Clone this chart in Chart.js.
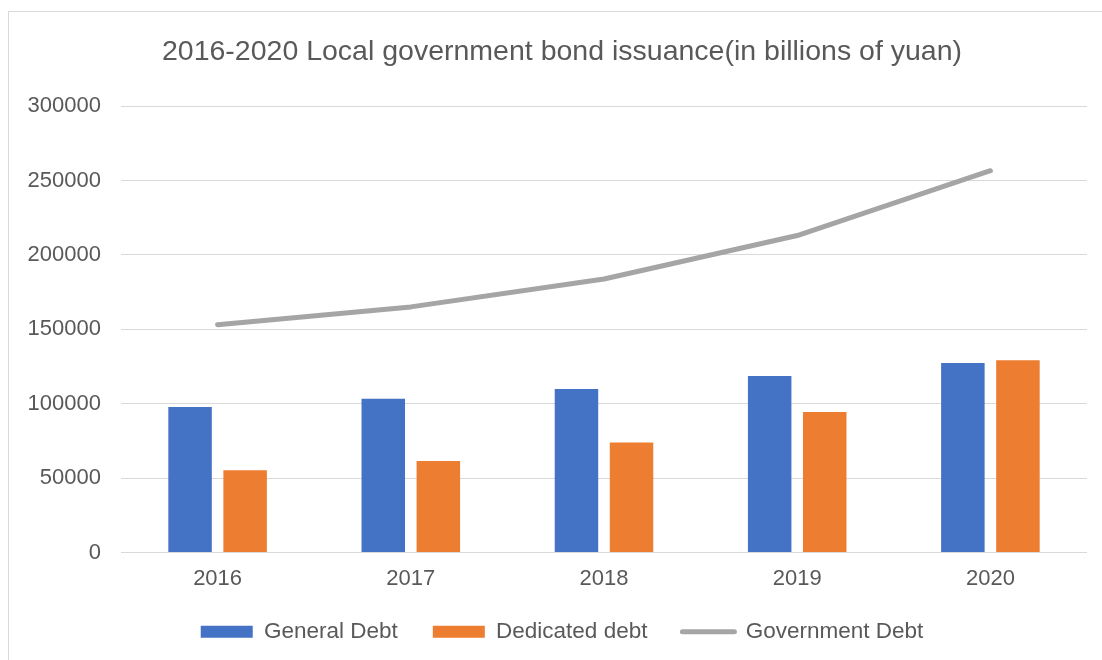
<!DOCTYPE html>
<html>
<head>
<meta charset="utf-8">
<title>Local government bond issuance</title>
<script src="https://cdn.jsdelivr.net/npm/chart.js@4.4.1/dist/chart.umd.min.js"></script>
<style>
    html, body {
        margin: 0;
        padding: 0;
        background: #ffffff;
        overflow: hidden;
    }
    /* light frame like the office chart border */
    #frame {
        position: absolute;
        left: 8px;
        top: 11px;
        width: 1120px;
        height: 700px;
        border-left: 1px solid #d9d9d9;
        border-top: 1px solid #d9d9d9;
    }
    #bond-chart {
        display: block;
    }
</style>
</head>
<body>
<div id="frame">
    <canvas id="bond-chart" width="1106" height="648"></canvas>
</div>
<script>
// chart data (billions of yuan)
var years = ['2016', '2017', '2018', '2019', '2020'];
var generalDebt = [97868, 103322, 109939, 118694, 127395];
var dedicatedDebt = [55297, 61458, 73923, 94378, 129220];
var governmentDebt = [153164, 165100, 183862, 213072, 256615];

var textColor = '#595959';
var gridColor = '#d9d9d9';
var fontFamily = "'Liberation Sans', Arial, sans-serif";

// the left padding is smaller than the right one, so nudge title and legend
// back to the middle of the frame
var centerOnFrame = {
    id: 'centerOnFrame',
    afterLayout: function (chart) {
        var shift = 4.5;
        [chart.titleBlock, chart.legend].forEach(function (box) {
            if (box) {
                box.left += shift;
                box.right += shift;
            }
        });
    }
};

var ctx = document.getElementById('bond-chart').getContext('2d');

var bondChart = new Chart(ctx, {
    type: 'bar',
    data: {
        labels: years,
        datasets: [{
            label: 'General Debt',
            data: generalDebt,
            backgroundColor: '#4472c4',
            borderWidth: 0,
            categoryPercentage: 0.57,
            barPercentage: 0.79
        }, {
            label: 'Dedicated debt',
            data: dedicatedDebt,
            backgroundColor: '#ed7d31',
            borderWidth: 0,
            categoryPercentage: 0.57,
            barPercentage: 0.79
        }, {
            type: 'line',
            label: 'Government Debt',
            data: governmentDebt,
            borderColor: '#a5a5a5',
            backgroundColor: '#a5a5a5',
            borderWidth: 5,
            borderCapStyle: 'round',
            borderJoinStyle: 'round',
            pointRadius: 0,
            pointHoverRadius: 0,
            tension: 0,
            fill: false
        }]
    },
    plugins: [centerOnFrame],
    options: {
        responsive: false,
        animation: false,
        layout: {
            padding: { left: 19, right: 28, top: 0, bottom: 7 }
        },
        plugins: {
            title: {
                display: true,
                text: '2016-2020 Local government bond issuance(in billions of yuan)',
                color: textColor,
                font: { family: fontFamily, size: 28.5, weight: 'normal' },
                padding: { top: 23.5, bottom: 36.5 }
            },
            legend: {
                position: 'bottom',
                labels: {
                    color: textColor,
                    font: { family: fontFamily, size: 22.5 },
                    usePointStyle: true,
                    pointStyleWidth: 52,
                    boxWidth: 52,
                    boxHeight: 12,
                    padding: 35,
                    // bars get a flat box, the total gets a short rounded line
                    generateLabels: function (chart) {
                        var items = Chart.defaults.plugins.legend.labels.generateLabels(chart);
                        items.forEach(function (item) {
                            if (item.datasetIndex === 2) {
                                item.pointStyle = 'line';
                                item.lineWidth = 5;
                                item.lineCap = 'round';
                                item.strokeStyle = '#a5a5a5';
                            } else {
                                item.pointStyle = 'rect';
                                item.lineWidth = 0;
                            }
                        });
                        return items;
                    }
                }
            },
            tooltip: { enabled: false }
        },
        scales: {
            x: {
                grid: { display: false, drawTicks: false },
                border: { display: false },
                ticks: {
                    color: textColor,
                    font: { family: fontFamily, size: 22 },
                    padding: 13
                },
                afterFit: function (scale) {
                    scale.height = 33;
                }
            },
            y: {
                min: 0,
                max: 300000,
                grid: { color: gridColor, lineWidth: 1, drawTicks: false },
                border: { display: false },
                ticks: {
                    stepSize: 50000,
                    color: textColor,
                    font: { family: fontFamily, size: 22 },
                    padding: 20,
                    callback: function (value) {
                        return String(value);
                    }
                },
                afterFit: function (scale) {
                    scale.width = 93;
                }
            }
        }
    }
});
</script>
</body>
</html>
